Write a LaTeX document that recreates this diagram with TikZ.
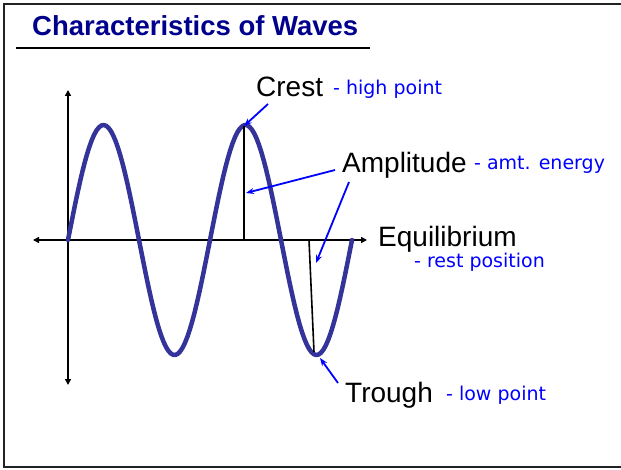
\documentclass[tikz,border=0pt]{standalone}
\usepackage{fontspec}
\usepackage{tikz}
\usetikzlibrary{arrows.meta, positioning, calc}
\newfontfamily\labelfont{Liberation Sans}
\newfontfamily\notefont{DejaVu Sans}
\definecolor{wvnavy}{HTML}{00008C}
\definecolor{wvwave}{HTML}{333399}
\definecolor{wvblue}{HTML}{0000FF}
\definecolor{wvframe}{HTML}{222222}

\begin{document}
\begin{tikzpicture}[
  x=1pt, y=-1pt,
  frame/.style={wvframe, line width=2.5pt},
  axis/.style={black, line width=1.6pt, {Triangle[length=6pt,width=6pt]}-{Triangle[length=6pt,width=6pt]}},
  wave/.style={wvwave, line width=4.5pt, line join=round, line cap=round},
  ampline/.style={black, line width=1.6pt},
  pointer/.style={wvblue, line width=1.8pt, -{Stealth[length=8pt,width=6pt]}},
  lbl/.style={font=\labelfont\fontsize{28}{30}\selectfont, inner sep=0pt, anchor=base west},
  note/.style={font=\notefont\fontsize{19}{21}\selectfont, text=wvblue, inner sep=0pt, anchor=base west},
  titlelbl/.style={font=\labelfont\bfseries\fontsize{27.5}{30}\selectfont, text=wvnavy, inner sep=0pt, anchor=base west},
]
  \useasboundingbox (0,0) rectangle (621,470);

  % Frame and title
  \draw[frame] (621,4) -- (4,4) -- (4,467) -- (621,467);
  \node[titlelbl] (title) at (32,36) {Characteristics of Waves};
  \draw[black, line width=2pt] (16,48) -- (370,48);

  % Axes
  \draw[axis] (68,90) -- (68,385);
  \draw[axis] (33,240) -- (367,240);

  % Wave
  \draw[wave] plot[domain=68:352, samples=120] (\x, {240-115*sin((\x-68)/142*360)});

  % Amplitude lines
  \coordinate (crestpt) at (244,126);
  \coordinate (crestbase) at (244,240);
  \coordinate (troughpt) at (314,352);
  \coordinate (troughbase) at (309,240);
  \draw[ampline] (crestpt) -- (crestbase);
  \draw[ampline] (troughbase) -- (troughpt);
  \coordinate (amptgt1) at (246,193);
  \coordinate (amptgt2) at (316,263);
  \coordinate (troughtip) at (320,358);

  % Labels
  \node[lbl] (crest) at (256,97) {Crest};
  \node[note] (crestnote) at (333,95) {- high point};
  \node[lbl] (amplitude) at (342,173) {Amplitude};
  \node[note] (ampnote) at (474,170) {- amt. energy};
  \node[lbl] (equilib) at (378,247) {Equilibrium};
  \node[note] (equinote) at (414,268) {- rest position};
  \node[lbl] (trough) at (345,402) {Trough};
  \node[note] (troughnote) at (446,400) {- low point};

  % Pointers
  \draw[pointer] ([xshift=12pt,yshift=-7pt]crest.base west) -- (crestpt);
  \draw[pointer] ([xshift=-7pt,yshift=3pt]amplitude.base west) -- (amptgt1);
  \draw[pointer] ([xshift=7pt,yshift=-9pt]amplitude.base west) -- (amptgt2);
  \draw[pointer] ([xshift=-7pt,yshift=19pt]trough.base west) -- (troughtip);
\end{tikzpicture}
\end{document}
